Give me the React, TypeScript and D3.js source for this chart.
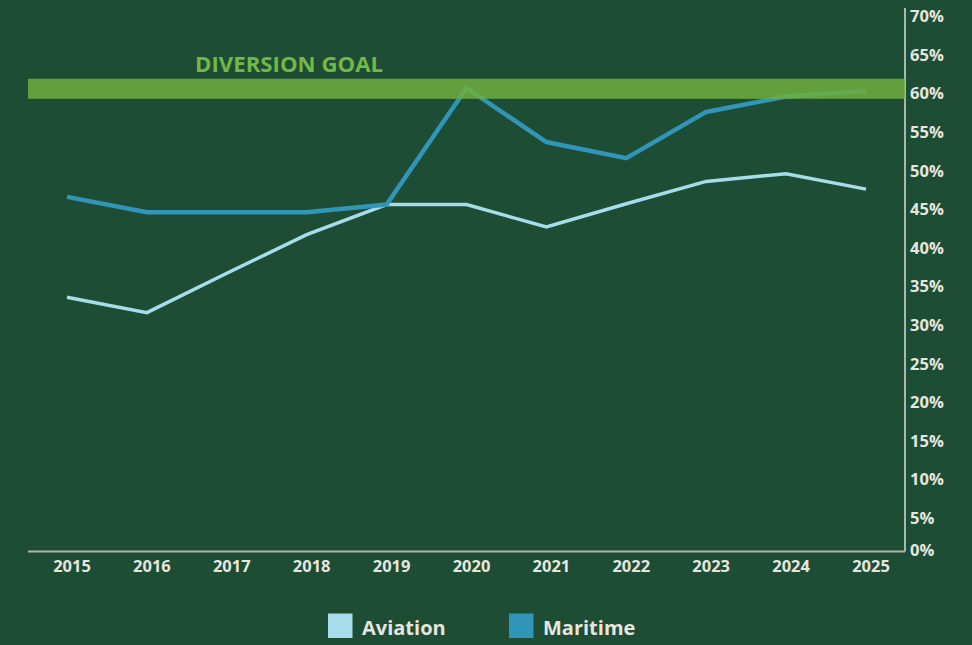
import React from "react";
import * as d3 from "d3";

const years = ["2015", "2016", "2017", "2018", "2019", "2020", "2021", "2022", "2023", "2024", "2025"];
const aviation = [33.6, 31.6, 36.7, 41.7, 45.6, 45.6, 42.7, 45.7, 48.6, 49.6, 47.6];
const maritime = [46.6, 44.6, 44.6, 44.6, 45.6, 60.7, 53.7, 51.6, 57.6, 59.6, 60.3];
const yTicks = [0, 5, 10, 15, 20, 25, 30, 35, 40, 45, 50, 55, 60, 65, 70];
const goalRange = [59.3, 61.9];
const goalLabel = "DIVERSION GOAL";
const seriesNames = ["Aviation", "Maritime"];

const W = 972;
const H = 645;
const BG = "#1d4d35";
const AV = "#a7dcea";
const MA = "#3195b8";
const TXT = "#e6e6df";
const AXIS = "#a9b8ae";
const FONT = "'Open Sans', 'Noto Sans', sans-serif";

export default function App() {
  const x = d3.scalePoint<string>().domain(years).range([67, 866]);
  const y = d3.scaleLinear().domain([0, 70]).range([556.6, 16.2]);
  const line = d3
    .line<number>()
    .x((_, i) => x(years[i]) as number)
    .y((d) => y(d));

  return (
    <svg
      width={W}
      height={H}
      style={{ position: "absolute", left: 0, top: 0, display: "block" }}
    >
      <rect x={0} y={0} width={W} height={H} fill={BG} />
      {/* axes */}
      <line x1={905} x2={905} y1={8} y2={551.5} stroke={AXIS} strokeWidth={2} />
      <line x1={28} x2={905} y1={551.5} y2={551.5} stroke={AXIS} strokeWidth={2} />
      {yTicks.map((t) => (
        <text
          key={t}
          x={910}
          y={Math.min(y(t), 550)}
          dy="0.36em"
          fill={TXT}
          fontFamily={FONT}
          fontWeight={700}
          fontSize={16.5}
        >
          {t}%
        </text>
      ))}
      {years.map((yr) => (
        <text
          key={yr}
          x={(x(yr) as number) + 5}
          y={572}
          textAnchor="middle"
          fill={TXT}
          fontFamily={FONT}
          fontWeight={700}
          fontSize={16.5}
        >
          {yr}
        </text>
      ))}
      {/* lines */}
      <path d={line(aviation) || ""} fill="none" stroke={AV} strokeWidth={3.5} strokeLinejoin="miter" />
      <path d={line(maritime) || ""} fill="none" stroke={MA} strokeWidth={4.5} strokeLinejoin="miter" />
      {/* goal band */}
      <rect
        x={28}
        y={y(goalRange[1])}
        width={905 - 28}
        height={y(goalRange[0]) - y(goalRange[1])}
        fill="#6eaf40"
        opacity={0.85}
      />
      <text
        x={195}
        y={72}
        fill="#72b844"
        fontFamily={FONT}
        fontWeight={700}
        fontSize={22}
        textLength={188}
        lengthAdjust="spacingAndGlyphs"
      >
        {goalLabel}
      </text>
      {/* legend */}
      <rect x={328} y={613.5} width={24.5} height={24.5} fill={AV} />
      <text x={362} y={635} fill={TXT} fontFamily={FONT} fontWeight={700} fontSize={20}>
        {seriesNames[0]}
      </text>
      <rect x={509} y={613.5} width={24.5} height={24.5} fill={MA} />
      <text x={543} y={635} fill={TXT} fontFamily={FONT} fontWeight={700} fontSize={20}>
        {seriesNames[1]}
      </text>
    </svg>
  );
}
